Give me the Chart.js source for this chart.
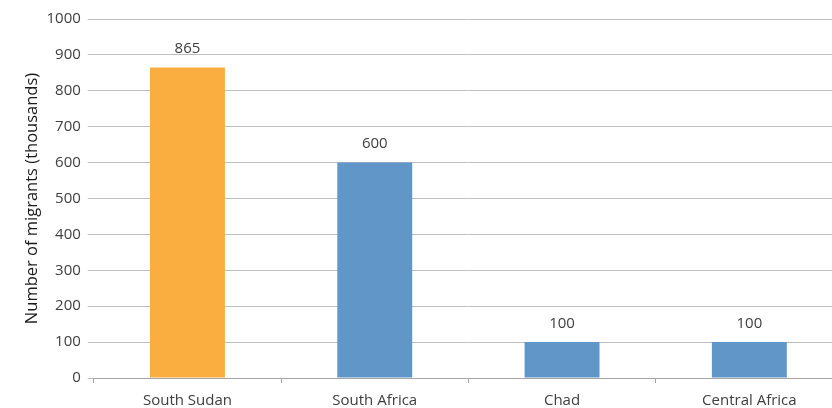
<!DOCTYPE html>
<html>
<head>
<meta charset="utf-8">
<script src="https://cdn.jsdelivr.net/npm/chart.js@4/dist/chart.umd.min.js"></script>
<style>
html,body{margin:0;padding:0;overflow:hidden;background:#fff;width:832px;height:408px;}
#wrap{position:absolute;left:0;top:0;width:846px;height:419px;}
</style>
</head>
<body>
<div id="wrap"><canvas id="c"></canvas></div>
<script>
const categories = ["South Sudan", "South Africa", "Chad", "Central Africa"];
const migrants = [865, 600, 100, 100];
const barColors = ["#F9AE3F", "#6196C9", "#6196C9", "#6196C9"];
const yTitle = "Number of migrants (thousands)";

const FONT = "'Open Sans', 'Noto Sans', sans-serif";

const labelPlugin = {
  id: 'barLabels',
  afterDatasetsDraw(chart) {
    const ctx = chart.ctx;
    const meta = chart.getDatasetMeta(0);
    ctx.save();
    ctx.font = "15px " + FONT;
    ctx.fillStyle = "#404040";
    ctx.textAlign = "center";
    ctx.textBaseline = "bottom";
    meta.data.forEach((bar, i) => {
      ctx.fillText(String(migrants[i]), bar.x, bar.y - 11);
    });
    ctx.restore();
  }
};

new Chart(document.getElementById('c'), {
  type: 'bar',
  data: {
    labels: categories,
    datasets: [{
      data: migrants,
      backgroundColor: barColors,
      borderWidth: 0,
      categoryPercentage: 1.0,
      barPercentage: 0.4
    }]
  },
  options: {
    responsive: true,
    maintainAspectRatio: false,
    animation: false,
    layout: { padding: { top: 19, right: 3, left: 24, bottom: 0 } },
    plugins: { legend: { display: false }, tooltip: { enabled: false } },
    scales: {
      x: {
        grid: { display: true, offset: true, drawOnChartArea: false, drawTicks: true, tickLength: 5, color: "#a6a6a6" },
        border: { display: true, color: "#a6a6a6", width: 1 },
        ticks: { color: "#404040", font: { family: FONT, size: 15 }, padding: 9 }
      },
      y: {
        min: 0, max: 1000,
        grid: { color: "#bfbfbf", tickLength: 6, tickColor: "#bfbfbf" },
        border: { display: false },
        ticks: { stepSize: 100, color: "#404040", font: { family: FONT, size: 15 }, padding: 7,
                 callback: (v) => String(v) },
        title: { display: true, text: yTitle, color: "#1a1a1a", font: { family: FONT, size: 16.5, lineHeight: 1.0 }, padding: { top: 0, bottom: -1 } }
      }
    }
  },
  plugins: [labelPlugin]
});
</script>
</body>
</html>
